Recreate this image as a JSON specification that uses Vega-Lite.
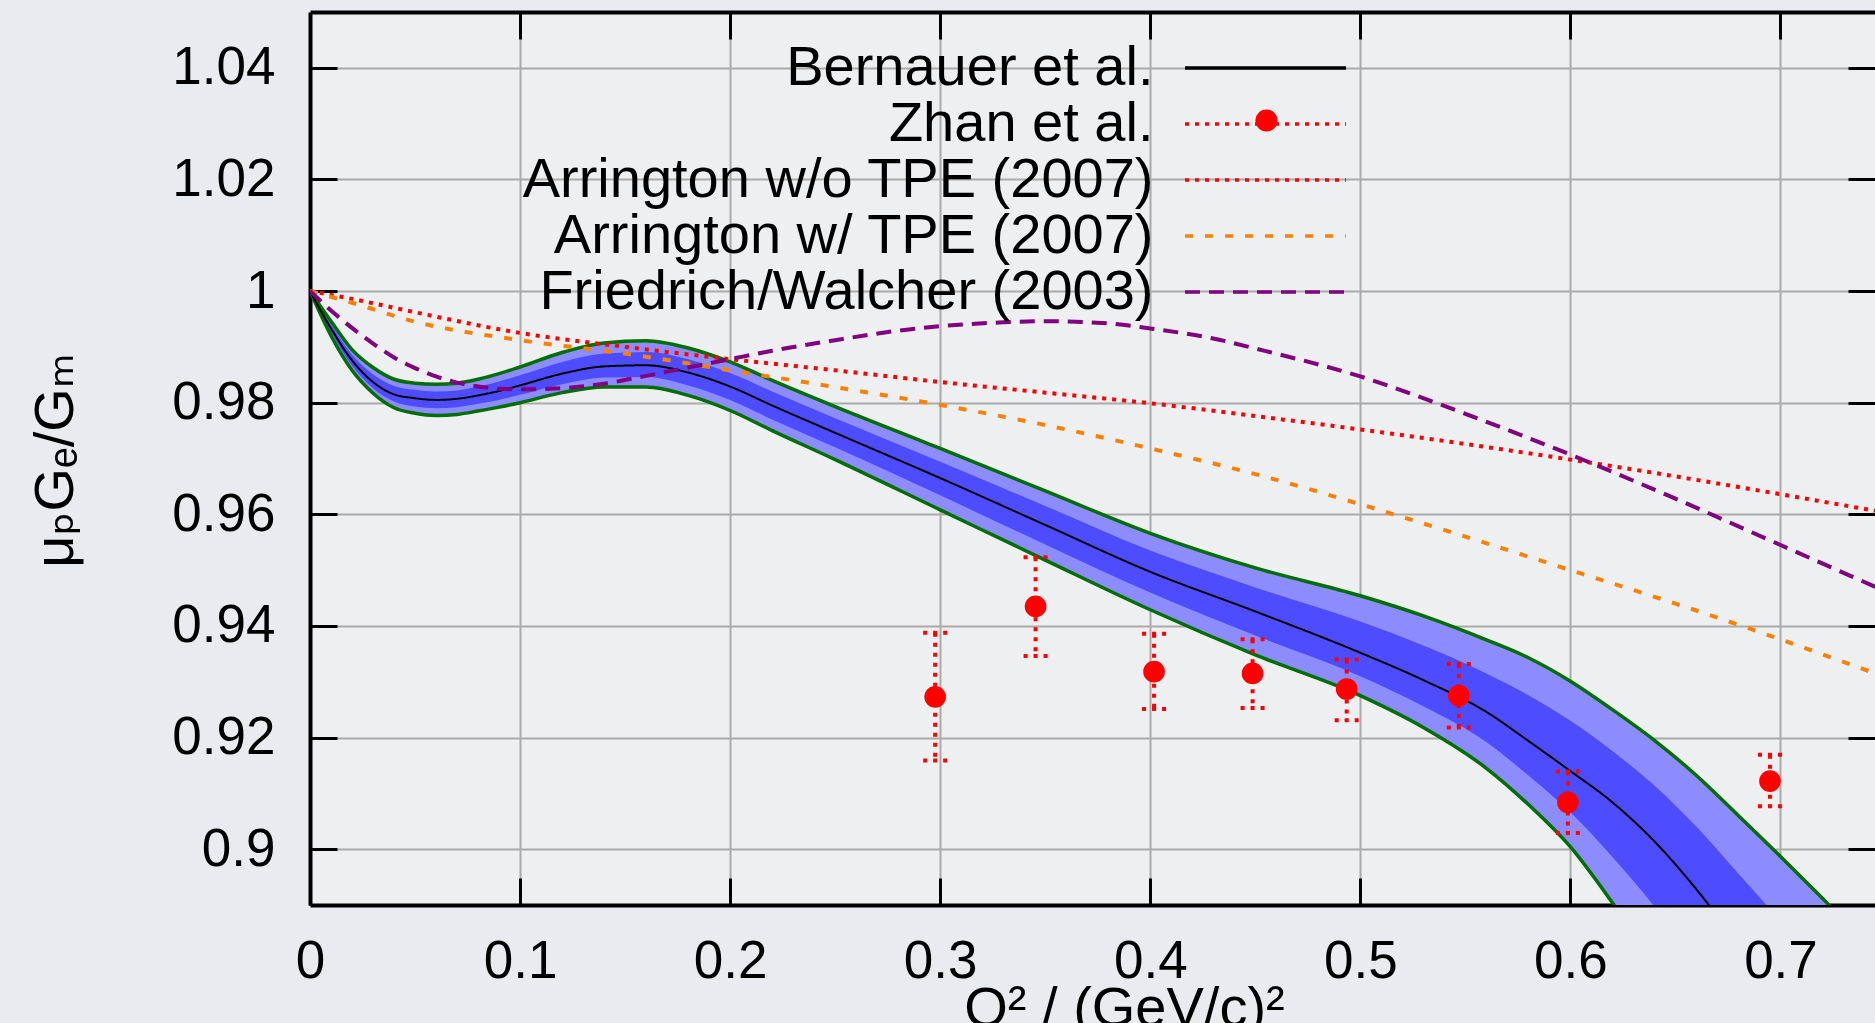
{
  "$schema": "https://vega.github.io/schema/vega-lite/v6.json",
  "width": 1565,
  "height": 893,
  "autosize": {"type": "none"},
  "padding": {"left": 310, "top": 12, "right": 0, "bottom": 118},
  "background": "#e9ebee",
  "config": {"font": "Liberation Sans", "view": {"stroke": null, "fill": "#eeeff1"}},
  "resolve": {"axis": {"x": "independent", "y": "independent"}},
  "datasets": {
    "bern": [
      {"x": 0, "lo": 1.0, "hi": 1.0, "ilo": 1.0, "ihi": 1.0},
      {"x": 0.01, "lo": 0.9920, "hi": 0.9946, "ilo": 0.9926, "ihi": 0.9940},
      {"x": 0.02, "lo": 0.9858, "hi": 0.9895, "ilo": 0.9866, "ihi": 0.9886},
      {"x": 0.03, "lo": 0.9817, "hi": 0.9863, "ilo": 0.9826, "ihi": 0.9851},
      {"x": 0.04, "lo": 0.9791, "hi": 0.9842, "ilo": 0.9802, "ihi": 0.9830},
      {"x": 0.05, "lo": 0.9781, "hi": 0.9835, "ilo": 0.9793, "ihi": 0.9823},
      {"x": 0.06, "lo": 0.9777, "hi": 0.9833, "ilo": 0.9790, "ihi": 0.9820},
      {"x": 0.07, "lo": 0.9779, "hi": 0.9835, "ilo": 0.9792, "ihi": 0.9822},
      {"x": 0.08, "lo": 0.9785, "hi": 0.9842, "ilo": 0.9798, "ihi": 0.9829},
      {"x": 0.09, "lo": 0.9792, "hi": 0.9852, "ilo": 0.9805, "ihi": 0.9838},
      {"x": 0.10, "lo": 0.9800, "hi": 0.9864, "ilo": 0.9814, "ihi": 0.9849},
      {"x": 0.12, "lo": 0.9818, "hi": 0.9890, "ilo": 0.9833, "ihi": 0.9873},
      {"x": 0.14, "lo": 0.9828, "hi": 0.9907, "ilo": 0.9845, "ihi": 0.9888},
      {"x": 0.16, "lo": 0.9828, "hi": 0.9911, "ilo": 0.9846, "ihi": 0.9891},
      {"x": 0.18, "lo": 0.9813, "hi": 0.9898, "ilo": 0.9831, "ihi": 0.9878},
      {"x": 0.20, "lo": 0.9786, "hi": 0.9873, "ilo": 0.9805, "ihi": 0.9853},
      {"x": 0.22, "lo": 0.9750, "hi": 0.9840, "ilo": 0.9770, "ihi": 0.9820},
      {"x": 0.25, "lo": 0.9698, "hi": 0.9793, "ilo": 0.9720, "ihi": 0.9772},
      {"x": 0.30, "lo": 0.9608, "hi": 0.9718, "ilo": 0.9634, "ihi": 0.9694},
      {"x": 0.35, "lo": 0.9518, "hi": 0.9642, "ilo": 0.9546, "ihi": 0.9615},
      {"x": 0.40, "lo": 0.9429, "hi": 0.9566, "ilo": 0.9460, "ihi": 0.9535},
      {"x": 0.45, "lo": 0.9348, "hi": 0.9504, "ilo": 0.9383, "ihi": 0.9469},
      {"x": 0.50, "lo": 0.9275, "hi": 0.9454, "ilo": 0.9310, "ihi": 0.9408},
      {"x": 0.53, "lo": 0.9218, "hi": 0.9418, "ilo": 0.9256, "ihi": 0.9365},
      {"x": 0.56, "lo": 0.9145, "hi": 0.9375, "ilo": 0.9192, "ihi": 0.9315},
      {"x": 0.58, "lo": 0.9080, "hi": 0.9343, "ilo": 0.9132, "ihi": 0.9276},
      {"x": 0.60, "lo": 0.9004, "hi": 0.9301, "ilo": 0.9066, "ihi": 0.9230},
      {"x": 0.62, "lo": 0.8904, "hi": 0.9250, "ilo": 0.8986, "ihi": 0.9176},
      {"x": 0.64, "lo": 0.8795, "hi": 0.9195, "ilo": 0.8897, "ihi": 0.9114},
      {"x": 0.66, "lo": 0.8680, "hi": 0.9132, "ilo": 0.8792, "ihi": 0.9040},
      {"x": 0.68, "lo": 0.8550, "hi": 0.9060, "ilo": 0.8676, "ihi": 0.8956},
      {"x": 0.70, "lo": 0.8410, "hi": 0.8987, "ilo": 0.8550, "ihi": 0.8871},
      {"x": 0.72, "lo": 0.8270, "hi": 0.8912, "ilo": 0.8430, "ihi": 0.8782},
      {"x": 0.74, "lo": 0.8130, "hi": 0.8835, "ilo": 0.8310, "ihi": 0.8690}
    ],
    "curves": [
      {"series": "Bernauer et al.", "x": 0, "y": 1.0},
      {"series": "Bernauer et al.", "x": 0.01, "y": 0.9933},
      {"series": "Bernauer et al.", "x": 0.02, "y": 0.9876},
      {"series": "Bernauer et al.", "x": 0.03, "y": 0.9837},
      {"series": "Bernauer et al.", "x": 0.04, "y": 0.9815},
      {"series": "Bernauer et al.", "x": 0.05, "y": 0.9808},
      {"series": "Bernauer et al.", "x": 0.06, "y": 0.9805},
      {"series": "Bernauer et al.", "x": 0.07, "y": 0.9807},
      {"series": "Bernauer et al.", "x": 0.08, "y": 0.9813},
      {"series": "Bernauer et al.", "x": 0.09, "y": 0.9821},
      {"series": "Bernauer et al.", "x": 0.10, "y": 0.9831},
      {"series": "Bernauer et al.", "x": 0.12, "y": 0.9852},
      {"series": "Bernauer et al.", "x": 0.14, "y": 0.9865},
      {"series": "Bernauer et al.", "x": 0.16, "y": 0.9867},
      {"series": "Bernauer et al.", "x": 0.18, "y": 0.9854},
      {"series": "Bernauer et al.", "x": 0.20, "y": 0.9829},
      {"series": "Bernauer et al.", "x": 0.22, "y": 0.9795},
      {"series": "Bernauer et al.", "x": 0.25, "y": 0.9746},
      {"series": "Bernauer et al.", "x": 0.30, "y": 0.9665},
      {"series": "Bernauer et al.", "x": 0.35, "y": 0.9581},
      {"series": "Bernauer et al.", "x": 0.40, "y": 0.9497},
      {"series": "Bernauer et al.", "x": 0.45, "y": 0.9426},
      {"series": "Bernauer et al.", "x": 0.50, "y": 0.9352},
      {"series": "Bernauer et al.", "x": 0.53, "y": 0.9303},
      {"series": "Bernauer et al.", "x": 0.56, "y": 0.9246},
      {"series": "Bernauer et al.", "x": 0.58, "y": 0.9194},
      {"series": "Bernauer et al.", "x": 0.60, "y": 0.9140},
      {"series": "Bernauer et al.", "x": 0.62, "y": 0.9084},
      {"series": "Bernauer et al.", "x": 0.64, "y": 0.9014},
      {"series": "Bernauer et al.", "x": 0.66, "y": 0.8928},
      {"series": "Bernauer et al.", "x": 0.68, "y": 0.8830},
      {"series": "Bernauer et al.", "x": 0.70, "y": 0.8730},
      {"series": "Arrington w/o TPE (2007)", "x": 0, "y": 1.0},
      {"series": "Arrington w/o TPE (2007)", "x": 0.02, "y": 0.9986},
      {"series": "Arrington w/o TPE (2007)", "x": 0.05, "y": 0.9962},
      {"series": "Arrington w/o TPE (2007)", "x": 0.10, "y": 0.9925},
      {"series": "Arrington w/o TPE (2007)", "x": 0.15, "y": 0.9900},
      {"series": "Arrington w/o TPE (2007)", "x": 0.20, "y": 0.9878},
      {"series": "Arrington w/o TPE (2007)", "x": 0.25, "y": 0.9858},
      {"series": "Arrington w/o TPE (2007)", "x": 0.30, "y": 0.9837},
      {"series": "Arrington w/o TPE (2007)", "x": 0.35, "y": 0.9818},
      {"series": "Arrington w/o TPE (2007)", "x": 0.40, "y": 0.9799},
      {"series": "Arrington w/o TPE (2007)", "x": 0.45, "y": 0.9776},
      {"series": "Arrington w/o TPE (2007)", "x": 0.50, "y": 0.9752},
      {"series": "Arrington w/o TPE (2007)", "x": 0.55, "y": 0.9726},
      {"series": "Arrington w/o TPE (2007)", "x": 0.60, "y": 0.9698},
      {"series": "Arrington w/o TPE (2007)", "x": 0.65, "y": 0.9668},
      {"series": "Arrington w/o TPE (2007)", "x": 0.70, "y": 0.9636},
      {"series": "Arrington w/o TPE (2007)", "x": 0.75, "y": 0.9603},
      {"series": "Arrington w/ TPE (2007)", "x": 0, "y": 1.0},
      {"series": "Arrington w/ TPE (2007)", "x": 0.02, "y": 0.9979},
      {"series": "Arrington w/ TPE (2007)", "x": 0.05, "y": 0.9945},
      {"series": "Arrington w/ TPE (2007)", "x": 0.10, "y": 0.9912},
      {"series": "Arrington w/ TPE (2007)", "x": 0.15, "y": 0.9888},
      {"series": "Arrington w/ TPE (2007)", "x": 0.20, "y": 0.9858},
      {"series": "Arrington w/ TPE (2007)", "x": 0.25, "y": 0.9828},
      {"series": "Arrington w/ TPE (2007)", "x": 0.30, "y": 0.9796},
      {"series": "Arrington w/ TPE (2007)", "x": 0.35, "y": 0.9760},
      {"series": "Arrington w/ TPE (2007)", "x": 0.40, "y": 0.9718},
      {"series": "Arrington w/ TPE (2007)", "x": 0.45, "y": 0.9672},
      {"series": "Arrington w/ TPE (2007)", "x": 0.50, "y": 0.9618},
      {"series": "Arrington w/ TPE (2007)", "x": 0.55, "y": 0.9560},
      {"series": "Arrington w/ TPE (2007)", "x": 0.60, "y": 0.9500},
      {"series": "Arrington w/ TPE (2007)", "x": 0.65, "y": 0.9440},
      {"series": "Arrington w/ TPE (2007)", "x": 0.70, "y": 0.9376},
      {"series": "Arrington w/ TPE (2007)", "x": 0.75, "y": 0.9308},
      {"series": "Friedrich/Walcher (2003)", "x": 0, "y": 1.0},
      {"series": "Friedrich/Walcher (2003)", "x": 0.01, "y": 0.9965},
      {"series": "Friedrich/Walcher (2003)", "x": 0.02, "y": 0.9934},
      {"series": "Friedrich/Walcher (2003)", "x": 0.03, "y": 0.9906},
      {"series": "Friedrich/Walcher (2003)", "x": 0.04, "y": 0.9881},
      {"series": "Friedrich/Walcher (2003)", "x": 0.05, "y": 0.9862},
      {"series": "Friedrich/Walcher (2003)", "x": 0.06, "y": 0.9847},
      {"series": "Friedrich/Walcher (2003)", "x": 0.07, "y": 0.9836},
      {"series": "Friedrich/Walcher (2003)", "x": 0.08, "y": 0.9829},
      {"series": "Friedrich/Walcher (2003)", "x": 0.09, "y": 0.9825},
      {"series": "Friedrich/Walcher (2003)", "x": 0.10, "y": 0.9824},
      {"series": "Friedrich/Walcher (2003)", "x": 0.12, "y": 0.9826},
      {"series": "Friedrich/Walcher (2003)", "x": 0.14, "y": 0.9834},
      {"series": "Friedrich/Walcher (2003)", "x": 0.16, "y": 0.9848},
      {"series": "Friedrich/Walcher (2003)", "x": 0.18, "y": 0.9863},
      {"series": "Friedrich/Walcher (2003)", "x": 0.20, "y": 0.9878},
      {"series": "Friedrich/Walcher (2003)", "x": 0.22, "y": 0.9893},
      {"series": "Friedrich/Walcher (2003)", "x": 0.25, "y": 0.9912},
      {"series": "Friedrich/Walcher (2003)", "x": 0.28, "y": 0.9929},
      {"series": "Friedrich/Walcher (2003)", "x": 0.30, "y": 0.9937},
      {"series": "Friedrich/Walcher (2003)", "x": 0.33, "y": 0.9944},
      {"series": "Friedrich/Walcher (2003)", "x": 0.35, "y": 0.9946},
      {"series": "Friedrich/Walcher (2003)", "x": 0.38, "y": 0.9942},
      {"series": "Friedrich/Walcher (2003)", "x": 0.40, "y": 0.9933},
      {"series": "Friedrich/Walcher (2003)", "x": 0.43, "y": 0.9915},
      {"series": "Friedrich/Walcher (2003)", "x": 0.45, "y": 0.9897},
      {"series": "Friedrich/Walcher (2003)", "x": 0.50, "y": 0.9847},
      {"series": "Friedrich/Walcher (2003)", "x": 0.55, "y": 0.9780},
      {"series": "Friedrich/Walcher (2003)", "x": 0.60, "y": 0.9707},
      {"series": "Friedrich/Walcher (2003)", "x": 0.65, "y": 0.9628},
      {"series": "Friedrich/Walcher (2003)", "x": 0.70, "y": 0.9545},
      {"series": "Friedrich/Walcher (2003)", "x": 0.75, "y": 0.9462}
    ],
    "zhan": [
      {"lab": "Zhan et al.", "x": 0.2976, "y": 0.9273, "lo": 0.9159, "hi": 0.9388},
      {"lab": "Zhan et al.", "x": 0.3454, "y": 0.9435, "lo": 0.9346, "hi": 0.9523},
      {"lab": "Zhan et al.", "x": 0.4018, "y": 0.9318, "lo": 0.9251, "hi": 0.9386},
      {"lab": "Zhan et al.", "x": 0.4487, "y": 0.9315, "lo": 0.9253, "hi": 0.9376},
      {"lab": "Zhan et al.", "x": 0.4935, "y": 0.9287, "lo": 0.9231, "hi": 0.9340},
      {"lab": "Zhan et al.", "x": 0.5469, "y": 0.9275, "lo": 0.9218, "hi": 0.9332},
      {"lab": "Zhan et al.", "x": 0.5988, "y": 0.9084, "lo": 0.9029, "hi": 0.9139},
      {"lab": "Zhan et al.", "x": 0.6950, "y": 0.9122, "lo": 0.9077, "hi": 0.9169}
    ]
  },
  "layer": [
    {
      "data": {"name": "bern"},
      "mark": {"type": "area", "color": "#8c8cff", "opacity": 1, "clip": true, "interpolate": "monotone"},
      "encoding": {
        "x": {"field": "x", "type": "quantitative", "scale": {"domain": [0, 0.745], "nice": false, "zero": false},
          "axis": {"orient": "bottom", "values": [0, 0.1, 0.2, 0.3, 0.4, 0.5, 0.6, 0.7], "format": "~g",
            "grid": true, "gridColor": "#aaaaaa", "gridWidth": 2, "gridOpacity": 1,
            "domainColor": "#000000", "domainWidth": 4, "tickColor": "#000000", "tickWidth": 3, "tickSize": -27,
            "labelFont": "Liberation Sans", "labelFontSize": 53, "labelColor": "#000000", "labelPadding": 57,
            "labelFlush": false, "labelOverlap": false,
            "title": "Q² / (GeV/c)²", "titleFont": "Liberation Sans", "titleFontSize": 56, "titleFontWeight": "normal",
            "titleColor": "#000000", "titleX": 814, "titleY": 120, "titleAlign": "center", "titleBaseline": "alphabetic"}},
        "y": {"field": "lo", "type": "quantitative", "scale": {"domain": [0.89, 1.05], "nice": false, "zero": false},
          "axis": {"orient": "left", "values": [0.9, 0.92, 0.94, 0.96, 0.98, 1.0, 1.02, 1.04], "format": "~g",
            "grid": true, "gridColor": "#aaaaaa", "gridWidth": 2, "gridOpacity": 1,
            "domainColor": "#000000", "domainWidth": 4, "tickColor": "#000000", "tickWidth": 3, "tickSize": -27,
            "labelFont": "Liberation Sans", "labelFontSize": 53, "labelColor": "#000000", "labelPadding": 62,
            "labelFlush": false, "labelOverlap": false,
            "title": "μₚGₑ/Gₘ", "titleFont": "Liberation Sans, DejaVu Sans", "titleFontSize": 56, "titleFontWeight": "normal",
            "titleColor": "#000000", "titleAngle": 270, "titleX": -238, "titleY": 448, "titleAlign": "center", "titleBaseline": "alphabetic"}},
        "y2": {"field": "hi"}
      }
    },
    {
      "data": {"name": "bern"},
      "mark": {"type": "area", "color": "#4d4dff", "opacity": 1, "clip": true, "interpolate": "monotone"},
      "encoding": {
        "x": {"field": "x", "type": "quantitative", "axis": null},
        "y": {"field": "ilo", "type": "quantitative", "axis": null},
        "y2": {"field": "ihi"}
      }
    },
    {
      "data": {"name": "bern"},
      "mark": {"type": "line", "color": "#006e00", "strokeWidth": 3.5, "clip": true, "interpolate": "monotone"},
      "encoding": {
        "x": {"field": "x", "type": "quantitative",
          "axis": {"orient": "top", "values": [0.1, 0.2, 0.3, 0.4, 0.5, 0.6, 0.7], "labels": false, "grid": false,
            "domainColor": "#000000", "domainWidth": 4, "tickColor": "#000000", "tickWidth": 3, "tickSize": -27, "title": null}},
        "y": {"field": "lo", "type": "quantitative",
          "axis": {"orient": "right", "values": [0.9, 0.92, 0.94, 0.96, 0.98, 1.0, 1.02, 1.04], "labels": false, "grid": false,
            "domain": false, "tickColor": "#000000", "tickWidth": 3, "tickSize": -27, "title": null}}
      }
    },
    {
      "data": {"name": "bern"},
      "mark": {"type": "line", "color": "#006e00", "strokeWidth": 3.5, "clip": true, "interpolate": "monotone"},
      "encoding": {
        "x": {"field": "x", "type": "quantitative", "axis": null},
        "y": {"field": "hi", "type": "quantitative", "axis": null}
      }
    },
    {
      "data": {"name": "curves"},
      "mark": {"type": "line", "clip": true, "interpolate": "monotone"},
      "encoding": {
        "x": {"field": "x", "type": "quantitative", "axis": null},
        "y": {"field": "y", "type": "quantitative", "axis": null},
        "color": {"field": "series", "type": "nominal",
          "scale": {"domain": ["Bernauer et al.", "Zhan et al.", "Arrington w/o TPE (2007)", "Arrington w/ TPE (2007)", "Friedrich/Walcher (2003)"],
            "range": ["#000000", "#ff0000", "#ff0000", "#ff8000", "#800080"]},
          "legend": {"orient": "none", "legendX": 875, "legendY": 28, "title": null,
            "symbolType": "M-8,0L8,0", "symbolSize": 405, "symbolStrokeWidth": 3.5, "symbolOpacity": 1, "symbolOffset": 52.5,
            "rowPadding": 0, "padding": 0,
            "labelAlign": "right", "labelOffset": -140, "labelLimit": 0, "labelFont": "Liberation Sans",
            "labelFontSize": 56, "labelColor": "#000000", "labelBaseline": "middle"}},
        "strokeDash": {"field": "series", "type": "nominal",
          "scale": {"domain": ["Bernauer et al.", "Zhan et al.", "Arrington w/o TPE (2007)", "Arrington w/ TPE (2007)", "Friedrich/Walcher (2003)"],
            "range": [[1, 0], [4, 6], [4, 6], [8, 12], [15, 9]]}},
        "strokeWidth": {"condition": {"test": "datum.series === 'Bernauer et al.'", "value": 2}, "value": 4}
      }
    },
    {
      "data": {"name": "zhan"},
      "mark": {"type": "rule", "color": "#ff0000", "strokeWidth": 4, "strokeDash": [4, 6]},
      "encoding": {
        "x": {"field": "x", "type": "quantitative", "axis": null},
        "y": {"field": "hi", "type": "quantitative", "axis": null},
        "y2": {"field": "lo"}
      }
    },
    {
      "data": {"name": "zhan"},
      "mark": {"type": "point", "shape": "stroke", "size": 576, "filled": false, "color": "#ff0000", "opacity": 1, "strokeWidth": 4, "strokeDash": [4, 6]},
      "encoding": {
        "x": {"field": "x", "type": "quantitative", "axis": null},
        "y": {"field": "lo", "type": "quantitative", "axis": null}
      }
    },
    {
      "data": {"name": "zhan"},
      "mark": {"type": "point", "shape": "stroke", "size": 576, "filled": false, "color": "#ff0000", "opacity": 1, "strokeWidth": 4, "strokeDash": [4, 6]},
      "encoding": {
        "x": {"field": "x", "type": "quantitative", "axis": null},
        "y": {"field": "hi", "type": "quantitative", "axis": null}
      }
    },
    {
      "data": {"name": "zhan"},
      "mark": {"type": "point", "size": 470, "filled": true, "color": "#ff0000", "opacity": 1},
      "encoding": {
        "x": {"field": "x", "type": "quantitative", "axis": null},
        "y": {"field": "y", "type": "quantitative", "axis": null},
        "shape": {"field": "lab", "type": "nominal", "scale": {"domain": ["Zhan et al."], "range": ["circle"]},
          "legend": {"orient": "none", "legendX": 945, "legendY": 97, "title": null, "padding": 0,
            "symbolSize": 490, "symbolFillColor": "#ff0000", "symbolStrokeColor": "#ff0000", "symbolStrokeWidth": 0, "symbolOpacity": 1,
            "labelExpr": "''", "labelFontSize": 1, "labelOffset": 0}}
      }
    }
  ]
}
